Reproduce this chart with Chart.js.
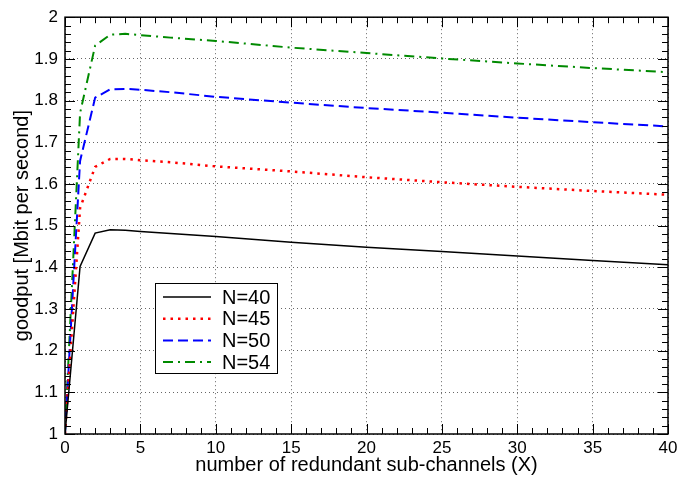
<!DOCTYPE html>
<html>
<head>
<meta charset="utf-8">
<script src="https://cdn.jsdelivr.net/npm/chart.js@4.4.1/dist/chart.umd.min.js"></script>
<style>
  html, body { margin: 0; padding: 0; background: #fff; }
  #wrap { width: 699px; height: 479px; }
</style>
</head>
<body>
<div id="wrap"><canvas id="goodputChart"></canvas></div>
<script>
// redundant sub-channels (X)
const xs = [0, 1, 2, 3, 4, 5, 7, 10, 15, 20, 25, 30, 35, 40];

// goodput [Mbit/s] for each N
const n40 = [1.000, 1.402, 1.482, 1.490, 1.489, 1.486, 1.481, 1.474, 1.460, 1.448, 1.438, 1.427, 1.416, 1.406];
const n45 = [1.000, 1.542, 1.641, 1.660, 1.660, 1.657, 1.652, 1.642, 1.630, 1.616, 1.604, 1.593, 1.583, 1.574];
const n50 = [1.000, 1.655, 1.807, 1.827, 1.828, 1.826, 1.820, 1.809, 1.795, 1.782, 1.771, 1.759, 1.748, 1.738];
const n54 = [1.000, 1.770, 1.932, 1.958, 1.960, 1.957, 1.951, 1.943, 1.927, 1.914, 1.901, 1.889, 1.878, 1.868];

const seriesNames = ["N=40", "N=45", "N=50", "N=54"];
const xTickLabels = ["0", "5", "10", "15", "20", "25", "30", "35", "40"];
const yTickLabels = ["1", "1.1", "1.2", "1.3", "1.4", "1.5", "1.6", "1.7", "1.8", "1.9", "2"];

const FONT = "'Liberation Sans', Arial, Helvetica, sans-serif";

function points(ys) {
  return xs.map((x, i) => ({ x: x, y: ys[i] }));
}

// ticks pointing inward on all four sides, plus the frame
const frameTicks = {
  id: "frameTicks",
  afterDraw(chart) {
    const ctx = chart.ctx;
    const a = chart.chartArea;
    const sx = chart.scales.x;
    const sy = chart.scales.y;
    ctx.save();
    ctx.strokeStyle = "#000";
    ctx.lineWidth = 1;
    ctx.beginPath();
    for (let v = 0; v <= 40; v++) {
      const px = Math.round(sx.getPixelForValue(v)) + 0.5;
      const len = v % 5 === 0 ? 10 : 6;
      ctx.moveTo(px, a.bottom); ctx.lineTo(px, a.bottom - len);
      ctx.moveTo(px, a.top); ctx.lineTo(px, a.top + len);
    }
    for (let k = 0; k <= 50; k++) {
      const py = Math.round(sy.getPixelForValue(1 + k * 0.02)) + 0.5;
      const len = k % 5 === 0 ? 10 : 6;
      ctx.moveTo(a.left, py); ctx.lineTo(a.left + len, py);
      ctx.moveTo(a.right, py); ctx.lineTo(a.right - len, py);
    }
    ctx.stroke();
    ctx.lineWidth = 1.5;
    ctx.strokeRect(a.left, a.top, a.right - a.left, a.bottom - a.top);
    ctx.restore();
  }
};

// boxed legend inside the plot
const boxLegend = {
  id: "boxLegend",
  afterDraw(chart) {
    const ctx = chart.ctx;
    const left = 155, top = 283, w = 122, h = 90;
    ctx.save();
    ctx.fillStyle = "#fff";
    ctx.fillRect(left, top, w, h);
    ctx.strokeStyle = "#000";
    ctx.lineWidth = 1;
    ctx.strokeRect(left + 0.5, top + 0.5, w, h);
    chart.data.datasets.forEach((ds, i) => {
      const y = top + 14 + i * 21.7;
      ctx.beginPath();
      ctx.strokeStyle = ds.borderColor;
      ctx.lineWidth = ds.borderWidth;
      ctx.setLineDash(ds.borderDash || []);
      ctx.moveTo(163, y);
      ctx.lineTo(211, y);
      ctx.stroke();
      ctx.setLineDash([]);
      ctx.fillStyle = "#000";
      ctx.font = "20px " + FONT;
      ctx.textBaseline = "middle";
      ctx.textAlign = "left";
      ctx.fillText(ds.label, 222, y + 1);
    });
    ctx.restore();
  }
};

new Chart(document.getElementById("goodputChart"), {
  type: "line",
  data: {
    datasets: [
      { label: seriesNames[0], data: points(n40), borderColor: "#000000", borderWidth: 1.5 },
      { label: seriesNames[1], data: points(n45), borderColor: "#ff0000", borderWidth: 2.5, borderDash: [2.5, 5] },
      { label: seriesNames[2], data: points(n50), borderColor: "#0000ff", borderWidth: 2, borderDash: [10, 5] },
      { label: seriesNames[3], data: points(n54), borderColor: "#008a00", borderWidth: 2, borderDash: [10, 5, 2, 5] }
    ]
  },
  options: {
    responsive: true,
    maintainAspectRatio: false,
    animation: false,
    elements: {
      point: { radius: 0 },
      line: { tension: 0, fill: false }
    },
    layout: { padding: { left: 0, right: 31, top: 11, bottom: 0 } },
    scales: {
      x: {
        type: "linear",
        min: 0,
        max: 40,
        afterFit(scale) { scale.height = 45; },
        grid: { color: "#666", drawTicks: false, lineWidth: 1 },
        border: { display: false, dash: [1, 3] },
        ticks: {
          stepSize: 5,
          padding: 4,
          color: "#000",
          font: { family: FONT, size: 17 },
          callback: (v, i) => xTickLabels[i]
        },
        title: {
          display: true,
          text: "number of redundant sub-channels (X)",
          color: "#000",
          font: { family: FONT, size: 20 },
          padding: { top: 0, bottom: 2 }
        }
      },
      y: {
        min: 1,
        max: 2,
        afterFit(scale) { scale.width = 65; },
        grid: { color: "#666", drawTicks: false, lineWidth: 1 },
        border: { display: false, dash: [1, 3] },
        ticks: {
          stepSize: 0.1,
          padding: 7,
          color: "#000",
          font: { family: FONT, size: 17 },
          callback: (v, i) => yTickLabels[i]
        },
        title: {
          display: true,
          text: "goodput [Mbit per second]",
          color: "#000",
          font: { family: FONT, size: 20 },
          padding: { top: 10, bottom: 0 }
        }
      }
    },
    plugins: {
      legend: { display: false },
      tooltip: { enabled: false }
    }
  },
  plugins: [frameTicks, boxLegend]
});
</script>
</body>
</html>
